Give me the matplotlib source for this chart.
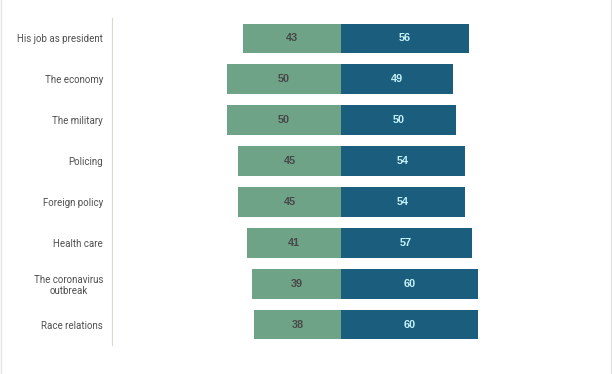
import matplotlib.pyplot as plt
import numpy as np

plt.rcParams['font.family'] = ['Roboto', 'DejaVu Sans']

categories = ["His job as president", "The economy", "The military", "Policing",
              "Foreign policy", "Health care", "The coronavirus\noutbreak",
              "Race relations"]
approve = [43, 50, 50, 45, 45, 41, 39, 38]
disapprove = [56, 49, 50, 54, 54, 57, 60, 60]

green = '#6fa387'
blue = '#1a5d7d'

fig = plt.figure(figsize=(6.12, 3.74), dpi=100)
ax = fig.add_axes([112/612, 29/374, 488/612, 327/374])

y = np.arange(len(categories))
h = 0.73
ax.barh(y, [-a for a in approve], height=h, color=green)
ax.barh(y, disapprove, height=h, color=blue)

for i in range(len(categories)):
    ax.text(-approve[i] / 2, y[i], str(approve[i]), ha='center', va='center',
            fontsize=7.8, fontweight='bold', color='#484848',
            family=['Liberation Sans', 'DejaVu Sans'])
    ax.text(disapprove[i] / 2, y[i], str(disapprove[i]), ha='center', va='center',
            fontsize=7.8, fontweight='bold', color='#c4f1f7',
            family=['Liberation Sans', 'DejaVu Sans'])

ax.set_xlim(-100, 113.1)
ax.set_ylim(7.5, -0.5)
ax.set_yticks(y)
ax.set_yticklabels(categories, fontsize=7, color='#505050', multialignment='center')
ax.tick_params(axis='y', length=0, pad=6.5)
ax.set_xticks([])
for s in ['top', 'right', 'bottom']:
    ax.spines[s].set_visible(False)
ax.spines['left'].set_color('#ddd8cf')
ax.spines['left'].set_linewidth(0.8)

# faint frame edges
fig.add_artist(plt.Line2D([0.001, 0.001], [0, 1], color='#e4e4e4', lw=1))
fig.add_artist(plt.Line2D([0.998, 0.998], [0, 1], color='#e4e4e4', lw=1))

fig.savefig('out.png', dpi=100)
